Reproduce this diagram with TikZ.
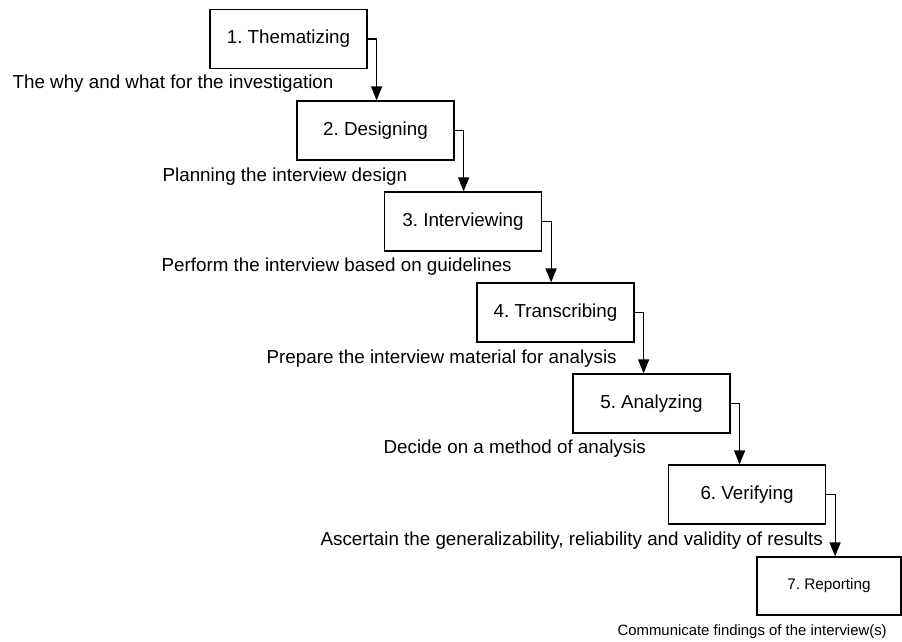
\documentclass[tikz,border=0pt]{standalone}
\usepackage{fontspec}
\setmainfont{Liberation Sans}
\frenchspacing
\usetikzlibrary{arrows.meta}
\tikzset{
  phase/.style={draw,line width=1.2pt,minimum width=157pt,minimum height=59pt,inner sep=0pt,
    font=\fontsize{18.8}{22}\selectfont},
  note/.style={anchor=base west,inner sep=0pt,font=\fontsize{18.8}{22}\selectfont}
}
\begin{document}
\begin{tikzpicture}[x=1pt,y=-1pt,line width=1.2pt,>={Triangle[width=11pt,length=14pt]}]
    \useasboundingbox (0,0) rectangle (902,641);
    \node[phase](1)at(288.5,39){1. Thematizing};
    \node[phase](2)at(375.5,130.5){2. Designing};
    \node[phase](3)at(463,221.5){3. Interviewing};
    \node[phase](4)at(555.5,312.5){4. Transcribing};
    \node[phase](5)at(651.5,403.5){5. Analyzing};
    \node[phase](6)at(747,494.5){6. Verifying};
    \node[phase,minimum width=144pt,minimum height=58pt,font=\fontsize{15.3}{18}\selectfont](7)at(829,586){7. Reporting};
    \node[note](n1)at(12,88){The why and what for the investigation};
    \node[note](n2)at(162,181){Planning the interview design};
    \node[note](n3)at(161,271){Perform the interview based on guidelines};
    \node[note](n4)at(266,363){Prepare the interview material for analysis};
    \node[note](n5)at(383,453){Decide on a method of analysis};
    \node[note](n6)at(320,545){Ascertain the generalizability, reliability and validity of results};
    \node[note,font=\fontsize{14.9}{18}\selectfont](n7)at(617,635){Communicate findings of the interview(s)};
    \draw[->](1.east)--++(9,0)coordinate(a1)--(a1|-2.north);
    \draw[->](2.east)--++(9,0)coordinate(a2)--(a2|-3.north);
    \draw[->](3.east)--++(9,0)coordinate(a3)--(a3|-4.north);
    \draw[->](4.east)--++(9,0)coordinate(a4)--(a4|-5.north);
    \draw[->](5.east)--++(9,0)coordinate(a5)--(a5|-6.north);
    \draw[->](6.east)--++(9,0)coordinate(a6)--(a6|-7.north);
\end{tikzpicture}
\end{document}
